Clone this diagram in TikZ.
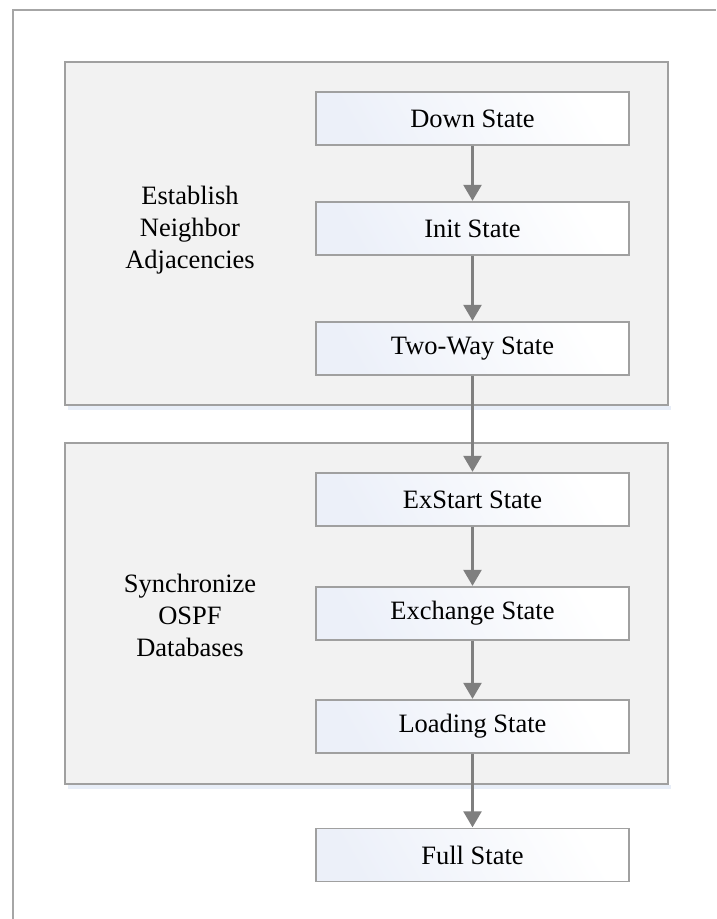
\documentclass[tikz,border=0pt]{standalone}
\usepackage{fontspec}
\setmainfont{Liberation Serif}
\usetikzlibrary{arrows.meta}
\definecolor{framegray}{HTML}{A6A6A6}
\definecolor{boxline}{HTML}{A0A0A0}
\definecolor{groupfill}{HTML}{F2F2F2}
\definecolor{statetint}{HTML}{ECF0F9}
\definecolor{shadowtint}{HTML}{E8EEF8}
\definecolor{arrowgray}{HTML}{7F7F7F}
\tikzset{
  groupbox/.style={draw=boxline, fill=groupfill, line width=1.4pt, rectangle,
    inner sep=0pt, minimum width=603pt},
  statebox/.style={draw=boxline, line width=1.4pt, rectangle, inner sep=0pt,
    minimum width=313pt, minimum height=53pt,
    left color=statetint, middle color=white, right color=white,
    shading angle=120,
    font=\fontsize{26.5pt}{32pt}\selectfont},
  grouplabel/.style={align=center, inner sep=0pt,
    font=\fontsize{26.5pt}{32pt}\selectfont},
  flow/.style={draw=arrowgray, line width=2.6pt,
    -{Triangle[width=18pt,length=16pt]}, shorten >=0.5pt}
}
\begin{document}
\begin{tikzpicture}[x=1pt, y=-1pt]
  \useasboundingbox (0,0) rectangle (716,919);
  \fill[white] (0,0) rectangle (716,919);

  % page frame (left and top edges only)
  \coordinate (frameBL) at (12.5,919);
  \coordinate (frameTL) at (12.5,9.5);
  \coordinate (frameTR) at (716,9.5);
  \draw[framegray, line width=2pt] (frameBL) -- (frameTL) -- (frameTR);

  % phase groups with a faint shadow beneath
  \fill[shadowtint] (68,406) rectangle (671,410);
  \fill[shadowtint] (68,785) rectangle (671,789);
  \node[groupbox, minimum height=343pt] (grpA) at (366.5,233.5) {};
  \node[groupbox, minimum height=341pt] (grpB) at (366.5,613.5) {};

  \node[grouplabel] (lblA) at (190,230) {Establish\\Neighbor\\Adjacencies};
  \node[grouplabel] (lblB) at (190,615) {Synchronize\\OSPF\\Databases};

  % OSPF neighbor states
  \node[statebox] (down)     at (472.5,118.5) {Down State};
  \node[statebox] (init)     at (472.5,228.5) {Init State};
  \node[statebox] (twoway)   at (472.5,348.5) {Two-Way State};
  \node[statebox] (exstart)  at (472.5,499.5) {ExStart State};
  \node[statebox] (exchange) at (472.5,613.5) {Exchange State};
  \node[statebox] (loading)  at (472.5,726.5) {Loading State};
  \node[statebox] (full)     at (472.5,855)   {Full State};

  % transitions
  \draw[flow] (down)     -- (init);
  \draw[flow] (init)     -- (twoway);
  \draw[flow] (twoway)   -- (exstart);
  \draw[flow] (exstart)  -- (exchange);
  \draw[flow] (exchange) -- (loading);
  \draw[flow] (loading)  -- (full);
\end{tikzpicture}
\end{document}
